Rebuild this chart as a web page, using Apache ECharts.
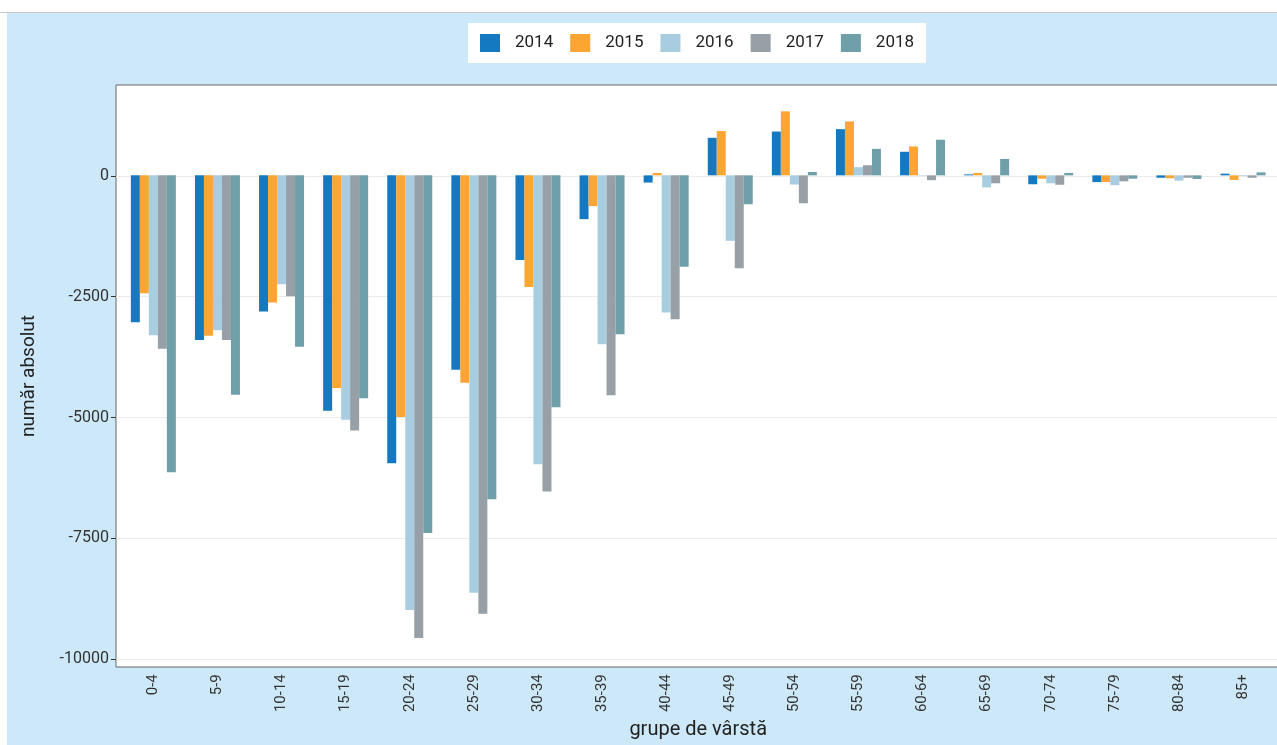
<!DOCTYPE html>
<html>
<head>
<meta charset="utf-8">
<script src="https://cdn.jsdelivr.net/npm/echarts@6/dist/echarts.min.js"></script>
<style>
  html, body { margin: 0; padding: 0; background: #fff; overflow: hidden; width: 1277px; height: 745px; }
  #topline { position: absolute; left: 0; top: 12px; width: 1277px; height: 1px; background: #c8c8c8; }
  #chart { position: absolute; left: 7px; top: 13px; width: 1300px; height: 732px; }
</style>
</head>
<body>
<div id="topline"></div>
<div id="chart"></div>
<script>
const ageGroups = ['0-4', '5-9', '10-14', '15-19', '20-24', '25-29', '30-34', '35-39', '40-44',
    '45-49', '50-54', '55-59', '60-64', '65-69', '70-74', '75-79', '80-84', '85+']
const years = ['2014', '2015', '2016', '2017', '2018']
const v2014 = [-3050, -3420, -2830, -4890, -5980, -4040, -1760, -910, -150, 780, 910, 960, 490, 20, -185, -140, -50, 35]
const v2015 = [-2450, -3330, -2640, -4420, -5020, -4310, -2320, -640, 50, 920, 1330, 1120, 600, 50, -70, -140, -60, -95]
const v2016 = [-3320, -3220, -2260, -5080, -9030, -8670, -6000, -3510, -2850, -1360, -190, 170, -10, -250, -165, -205, -110, -15]
const v2017 = [-3600, -3420, -2510, -5300, -9610, -9110, -6570, -4570, -2990, -1930, -580, 210, -100, -165, -195, -125, -50, -50]
const v2018 = [-6170, -4560, -3560, -4630, -7430, -6730, -4820, -3300, -1900, -600, 70, 550, 740, 342, 50, -70, -75, 62]
const yTicks = [-10000, -7500, -5000, -2500, 0]
const colors = ['#1479c1', '#fba535', '#a8cde1', '#97a0a7', '#6f9fa8']

const seriesValues = [v2014, v2015, v2016, v2017, v2018]
const yMin = -10157
const yMax = 1877

var myChart = echarts.init(document.getElementById('chart'))
myChart.setOption({
    backgroundColor: '#cde8f8',
    textStyle: { fontFamily: 'Roboto' },
    color: colors,
    legend: {
        left: 461,
        top: 10,
        padding: [11, 12],
        backgroundColor: '#fff',
        itemWidth: 20,
        itemHeight: 18,
        itemGap: 17,
        icon: 'rect',
        textStyle: { fontSize: 17, color: '#222', padding: [0, 0, 0, 10] },
        data: years
    },
    grid: [
        // bars (ggplot style padding on the category axis)
        { left: 114.3, top: 72, width: 18 * 64.1, bottom: 78, show: false },
        // white panel with border, runs past the right edge like the original
        {
            left: 109, top: 72, width: 1180, bottom: 78,
            show: true, backgroundColor: '#fff', borderColor: '#666', borderWidth: 1
        }
    ],
    xAxis: [
        {
            type: 'category',
            gridIndex: 0,
            data: ageGroups,
            name: 'grupe de vârstă',
            nameLocation: 'middle',
            nameGap: 53,
            nameTextStyle: { fontSize: 20, color: '#222' },
            axisLine: { show: false },
            axisTick: { alignWithLabel: true, length: 5, lineStyle: { color: '#333' } },
            axisLabel: { rotate: 90, fontSize: 15, color: '#333', margin: 10 }
        },
        { type: 'value', gridIndex: 1, show: false }
    ],
    yAxis: [
        { type: 'value', gridIndex: 0, min: yMin, max: yMax, show: false, splitLine: { show: false } },
        {
            type: 'value',
            gridIndex: 1,
            min: yMin,
            max: yMax,
            name: 'număr absolut',
            nameLocation: 'middle',
            nameGap: 77,
            nameTextStyle: { fontSize: 19, color: '#222' },
            axisLine: { show: false },
            axisTick: { show: true, length: 5, customValues: yTicks, lineStyle: { color: '#333' } },
            axisLabel: { fontSize: 16, color: '#333', margin: 7, customValues: yTicks, formatter: v => String(v) },
            splitLine: { show: true, lineStyle: { color: '#ebebeb', width: 1 } }
        }
    ],
    series: seriesValues.map((vals, i) => ({
        name: years[i],
        type: 'bar',
        xAxisIndex: 0,
        yAxisIndex: 0,
        barWidth: 9,
        barGap: '0%',
        data: vals
    }))
})
</script>
</body>
</html>
